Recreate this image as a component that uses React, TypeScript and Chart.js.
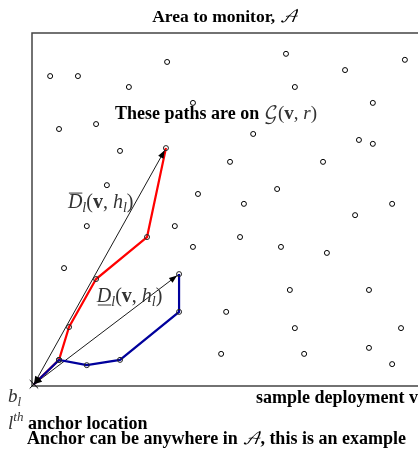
import React, { useEffect, useRef } from "react";
import { Chart, registerables } from "chart.js";

Chart.register(...registerables);

// Sensor sample deployment points (area coordinates, 0..100)
const sensorX = [4.7, 11.9, 35.0, 25.1, 65.8, 96.6, 81.1, 68.1, 88.3, 41.7, 7.0, 16.6, 57.3, 84.7, 88.3, 22.8, 51.3, 75.4, 19.4, 43.0, 63.5, 54.9, 93.3, 83.7, 14.2, 37.0, 53.9, 41.7, 64.5, 76.4, 8.3, 66.8, 87.3, 50.3, 68.1, 95.6, 49.0, 70.5, 87.3, 93.3];
const sensorY = [87.8, 87.8, 91.8, 84.7, 94.1, 92.4, 89.5, 84.7, 80.2, 80.2, 72.8, 74.2, 71.4, 69.7, 68.6, 66.6, 63.5, 63.5, 56.9, 54.4, 55.8, 51.6, 51.6, 48.4, 45.3, 45.3, 42.2, 39.4, 39.4, 37.7, 33.4, 27.2, 27.2, 21.0, 16.4, 16.4, 9.1, 9.1, 10.8, 6.2];

// Anchor b_l
const anchorX = [0.5];
const anchorY = [0.5];

// Longest path (red) and shortest path (blue) on G(v, r)
const redPathX = [0.5, 7.0, 9.6, 16.6, 29.8, 34.7];
const redPathY = [0.5, 7.4, 16.7, 30.3, 42.2, 67.4];
const bluePathX = [0.5, 7.0, 14.2, 22.8, 38.1, 38.1];
const bluePathY = [0.5, 7.4, 5.9, 7.4, 21.0, 31.7];

// Distance arrows
const upperArrowX = [0.5, 34.7];
const upperArrowY = [0.5, 67.4];
const lowerArrowX = [0.5, 38.1];
const lowerArrowY = [0.5, 31.7];

const SERIF = "'Liberation Serif', 'Times New Roman', serif";
const MATH = "'DejaVu Math TeX Gyre', 'Liberation Serif', serif";

const zip = (xs: number[], ys: number[]) => xs.map((x, i) => ({ x, y: ys[i] }));

type Seg = { t: string; f: string; dy?: number; deco?: "over" | "under"; color?: string };

function drawRich(ctx: CanvasRenderingContext2D, x: number, y: number, segs: Seg[], align: "left" | "center" | "right" = "left", color = "#000") {
  let total = 0;
  for (const s of segs) {
    ctx.font = s.f;
    total += ctx.measureText(s.t).width;
  }
  let cx = align === "left" ? x : align === "center" ? x - total / 2 : x - total;
  ctx.textAlign = "left";
  ctx.textBaseline = "alphabetic";
  for (const s of segs) {
    ctx.font = s.f;
    const w = ctx.measureText(s.t).width;
    ctx.fillStyle = s.color || color;
    ctx.fillText(s.t, cx, y + (s.dy || 0));
    if (s.deco) {
      ctx.strokeStyle = s.color || color;
      ctx.lineWidth = 1;
      const ly = s.deco === "over" ? y - 15 : y + 3;
      ctx.beginPath();
      ctx.moveTo(cx + 1, ly);
      ctx.lineTo(cx + w, ly);
      ctx.stroke();
    }
    cx += w;
  }
}

const framePlugin = {
  id: "frame",
  beforeDatasetsDraw(chart: any) {
    const { ctx, chartArea: a } = chart;
    ctx.save();
    ctx.strokeStyle = "#444";
    ctx.lineWidth = 1.5;
    ctx.beginPath();
    ctx.moveTo(a.right + 2, a.top);
    ctx.lineTo(a.left, a.top);
    ctx.lineTo(a.left, a.bottom);
    ctx.lineTo(a.right + 2, a.bottom);
    ctx.stroke();
    ctx.restore();
  },
};

const arrowPlugin = {
  id: "arrows",
  afterDatasetsDraw(chart: any) {
    const ctx = chart.ctx;
    chart.data.datasets.forEach((ds: any, i: number) => {
      if (!ds.isArrow) return;
      const pts = chart.getDatasetMeta(i).data;
      if (pts.length < 2) return;
      const p0 = pts[0], p1 = pts[1];
      const head = (from: any, to: any, back: number) => {
        const ang = Math.atan2(to.y - from.y, to.x - from.x);
        const tx = to.x - Math.cos(ang) * back;
        const ty = to.y - Math.sin(ang) * back;
        const L = 8, W = 3;
        ctx.beginPath();
        ctx.moveTo(tx, ty);
        ctx.lineTo(tx - Math.cos(ang) * L + Math.sin(ang) * W, ty - Math.sin(ang) * L - Math.cos(ang) * W);
        ctx.lineTo(tx - Math.cos(ang) * L - Math.sin(ang) * W, ty - Math.sin(ang) * L + Math.cos(ang) * W);
        ctx.closePath();
        ctx.fill();
      };
      ctx.save();
      ctx.fillStyle = "#000";
      head(p0, p1, 2.5);
      head(p1, p0, 0);
      ctx.restore();
    });
  },
};

const textPlugin = {
  id: "texts",
  afterDraw(chart: any) {
    const ctx = chart.ctx as CanvasRenderingContext2D;
    const a = chart.chartArea;
    const xs = chart.scales.x, ys = chart.scales.y;
    ctx.save();
    const B18 = `bold 18px ${SERIF}`;
    const gray = "#333";
    // Title
    drawRich(ctx, (a.left + a.right) / 2, 22, [
      { t: "Area to monitor, ", f: `bold 17.5px ${SERIF}` },
      { t: "𝒜", f: `italic 17px ${MATH}` },
    ], "center");
    // These paths are on G(v, r)
    drawRich(ctx, xs.getPixelForValue(21.5), ys.getPixelForValue(75.6), [
      { t: "These paths are on ", f: B18 },
      { t: "𝒢", f: `19px ${MATH}`, color: gray },
      { t: "(", f: `19px ${SERIF}`, color: gray },
      { t: "v", f: `bold 19px ${SERIF}`, color: gray },
      { t: ", ", f: `19px ${SERIF}`, color: gray },
      { t: "r", f: `italic 19px ${SERIF}`, color: gray },
      { t: ")", f: `19px ${SERIF}`, color: gray },
    ]);
    const distLabel = (x: number, y: number, deco: "over" | "under") => {
      drawRich(ctx, x, y, [
        { t: "D", f: `italic 20px ${SERIF}`, deco, color: gray },
        { t: "l", f: `italic 14px ${SERIF}`, dy: 4, color: gray },
        { t: "(", f: `20px ${SERIF}`, color: gray },
        { t: "v", f: `bold 20px ${SERIF}`, color: gray },
        { t: ", ", f: `20px ${SERIF}`, color: gray },
        { t: "h", f: `italic 20px ${SERIF}`, color: gray },
        { t: "l", f: `italic 14px ${SERIF}`, dy: 4, color: gray },
        { t: ")", f: `20px ${SERIF}`, color: gray },
      ]);
    };
    distLabel(xs.getPixelForValue(9.3), ys.getPixelForValue(50.4), "over");
    distLabel(xs.getPixelForValue(16.8), ys.getPixelForValue(23.8), "under");
    // Below the area
    drawRich(ctx, 8, a.bottom + 16, [
      { t: "b", f: `italic 19px ${SERIF}`, color: gray },
      { t: "l", f: `italic 13px ${SERIF}`, dy: 4, color: gray },
    ]);
    drawRich(ctx, 418, a.bottom + 17, [
      { t: "sample deployment ", f: B18 },
      { t: "v", f: `bold 18px ${SERIF}` },
    ], "right");
    drawRich(ctx, 8, a.bottom + 43, [
      { t: "l", f: `italic 19px ${SERIF}`, color: gray },
      { t: "th", f: `italic 13px ${SERIF}`, dy: -8, color: gray },
      { t: " anchor location", f: B18 },
    ]);
    drawRich(ctx, 27, a.bottom + 58, [
      { t: "Anchor can be anywhere in ", f: B18 },
      { t: "𝒜", f: `italic 17px ${MATH}` },
      { t: ", this is an example", f: B18 },
    ]);
    ctx.restore();
  },
};

export default function App() {
  const ref = useRef<HTMLCanvasElement | null>(null);
  useEffect(() => {
    if (!ref.current) return;
    const pathPointRadius = [0, 2.5, 2.5, 2.5, 2.5, 2.5];
    const chart = new Chart(ref.current, {
      type: "scatter",
      data: {
        datasets: [
          {
            label: "anchor",
            data: zip(anchorX, anchorY),
            pointStyle: "crossRot",
            pointRadius: 6,
            borderColor: "#000",
            borderWidth: 1,
            order: 1,
            clip: false,
          } as any,
          {
            label: "shortest path",
            data: zip(bluePathX, bluePathY),
            showLine: true,
            borderColor: "#00009c",
            borderWidth: 2.2,
            pointRadius: pathPointRadius,
            pointBorderColor: "#222",
            pointBackgroundColor: "rgba(0,0,0,0)",
            pointBorderWidth: 1,
            order: 2,
            clip: false,
          },
          {
            label: "longest path",
            data: zip(redPathX, redPathY),
            showLine: true,
            borderColor: "#ff0000",
            borderWidth: 2.2,
            pointRadius: pathPointRadius,
            pointBorderColor: "#222",
            pointBackgroundColor: "rgba(0,0,0,0)",
            pointBorderWidth: 1,
            order: 3,
            clip: false,
          },
          {
            label: "upper distance",
            data: zip(upperArrowX, upperArrowY),
            showLine: true,
            borderColor: "#000",
            borderWidth: 0.9,
            pointRadius: 0,
            isArrow: true,
            order: 4,
            clip: false,
          } as any,
          {
            label: "lower distance",
            data: zip(lowerArrowX, lowerArrowY),
            showLine: true,
            borderColor: "#000",
            borderWidth: 0.9,
            pointRadius: 0,
            isArrow: true,
            order: 4,
            clip: false,
          } as any,
          {
            label: "sensors",
            data: zip(sensorX, sensorY),
            pointStyle: "circle",
            pointRadius: 2.5,
            borderColor: "#000",
            backgroundColor: "#fff",
            borderWidth: 1,
            order: 5,
            clip: false,
          },
        ],
      },
      options: {
        animation: false,
        responsive: false,
        layout: { autoPadding: false, padding: { left: 32, top: 33, right: 0, bottom: 68 } },
        scales: {
          x: { type: "linear", min: 0, max: 100, display: false },
          y: { type: "linear", min: 0, max: 100, display: false },
        },
        plugins: {
          legend: { display: false },
          tooltip: { enabled: false },
          title: { display: false },
        },
      },
      plugins: [framePlugin, arrowPlugin, textPlugin],
    });
    return () => chart.destroy();
  }, []);
  return (
    <div style={{ position: "fixed", left: 0, top: 0, width: 418, height: 454 }}>
      <canvas ref={ref} width={418} height={454} style={{ display: "block" }} />
    </div>
  );
}
